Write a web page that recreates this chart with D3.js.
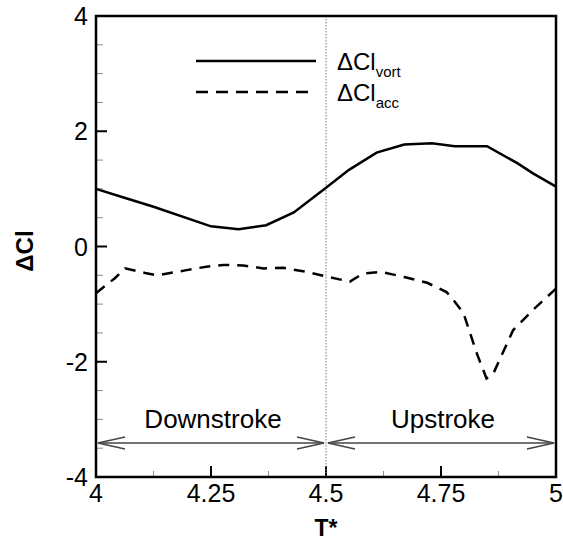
<!DOCTYPE html>
<html>
<head>
<meta charset="utf-8">
<script src="https://d3js.org/d3.v7.min.js"></script>
<style>
  body { margin: 0; background: #fff; }
  svg { font-family: Arial, "Liberation Sans", sans-serif; }
</style>
</head>
<body>
<svg width="563" height="549"></svg>
<script>
// time values (T*) and the two series
var vortT = [4.0, 4.06, 4.125, 4.25, 4.31, 4.37, 4.43, 4.5, 4.55, 4.61, 4.67, 4.73, 4.78, 4.85, 4.915, 4.95, 5.0];
var vortV = [1.0, 0.85, 0.69, 0.35, 0.30, 0.37, 0.59, 1.02, 1.33, 1.63, 1.77, 1.79, 1.74, 1.74, 1.45, 1.27, 1.04];

var accT = [4.0, 4.041, 4.063, 4.107, 4.132, 4.197, 4.24, 4.277, 4.32, 4.364, 4.407, 4.458, 4.5, 4.552, 4.58, 4.62, 4.67, 4.72, 4.762, 4.777, 4.799, 4.828, 4.849, 4.864, 4.907, 4.95, 5.0];
var accV = [-0.81, -0.55, -0.38, -0.46, -0.50, -0.41, -0.35, -0.32, -0.33, -0.38, -0.37, -0.44, -0.52, -0.61, -0.47, -0.44, -0.53, -0.63, -0.79, -0.93, -1.16, -1.86, -2.29, -2.2, -1.45, -1.10, -0.73];

var xTicks = [4, 4.25, 4.5, 4.75, 5];
var xTickLabels = ["4", "4.25", "4.5", "4.75", "5"];
var yTicks = [-4, -2, 0, 2, 4];
var strokes = [{name: "Downstroke", from: 4, to: 4.5}, {name: "Upstroke", from: 4.5, to: 5}];
var arrowLevel = -3.41;

var svg = d3.select("svg");
var x = d3.scaleLinear().domain([4, 5]).range([96, 556]);
var y = d3.scaleLinear().domain([-4, 4]).range([477, 16]);

// minor ticks
var xMinor = d3.range(4, 5.0001, 0.125).filter(d => xTicks.indexOf(d) < 0);
var yMinor = d3.range(-4, 4.0001, 0.5).filter(d => yTicks.indexOf(d) < 0);

svg.append("g").selectAll("line").data(xMinor).join("line")
  .attr("x1", d => x(d)).attr("x2", d => x(d))
  .attr("y1", y(-4)).attr("y2", y(-4) - 6)
  .attr("stroke", "#888").attr("stroke-width", 1);
svg.append("g").selectAll("line").data(yMinor).join("line")
  .attr("x1", x(4)).attr("x2", x(4) + 7)
  .attr("y1", d => y(d)).attr("y2", d => y(d))
  .attr("stroke", "#888").attr("stroke-width", 1);

// major ticks
svg.append("g").selectAll("line").data(xTicks).join("line")
  .attr("x1", d => x(d)).attr("x2", d => x(d))
  .attr("y1", y(-4)).attr("y2", y(-4) - 11)
  .attr("stroke", "#000").attr("stroke-width", 2);
svg.append("g").selectAll("line").data(yTicks).join("line")
  .attr("x1", x(4)).attr("x2", x(4) + 11)
  .attr("y1", d => y(d)).attr("y2", d => y(d))
  .attr("stroke", "#000").attr("stroke-width", 2);

// tick labels
svg.append("g").selectAll("text").data(xTicks).join("text")
  .attr("x", d => x(d)).attr("y", 502)
  .attr("text-anchor", "middle").attr("font-size", "25px")
  .text((d, i) => xTickLabels[i]);
svg.append("g").selectAll("text").data(yTicks).join("text")
  .attr("x", 88).attr("y", d => y(d) + 9)
  .attr("text-anchor", "end").attr("font-size", "25px")
  .text(d => d);

// dotted divider at 4.5
svg.append("line")
  .attr("x1", x(4.5)).attr("x2", x(4.5))
  .attr("y1", y(4)).attr("y2", y(-4))
  .attr("stroke", "#777").attr("stroke-width", 1)
  .attr("stroke-dasharray", "1.5,1.5");

var line = d3.line().x(d => x(d[0])).y(d => y(d[1]));

svg.append("path")
  .datum(vortT.map((t, i) => [t, vortV[i]]))
  .attr("d", line).attr("fill", "none")
  .attr("stroke", "#000").attr("stroke-width", 2.5);

svg.append("path")
  .datum(accT.map((t, i) => [t, accV[i]]))
  .attr("d", line).attr("fill", "none")
  .attr("stroke", "#000").attr("stroke-width", 2.5)
  .attr("stroke-dasharray", "11,8");

// stroke arrows
strokes.forEach(function(s) {
  var g = svg.append("g").attr("stroke", "#444").attr("stroke-width", 1.3).attr("fill", "none");
  var x0 = x(s.from) + 2, x1 = x(s.to) - 2, yy = y(arrowLevel);
  g.append("line").attr("x1", x0).attr("x2", x1).attr("y1", yy).attr("y2", yy);
  g.append("path").attr("d", "M" + (x0 + 27) + "," + (yy - 6) + "L" + x0 + "," + yy + "L" + (x0 + 27) + "," + (yy + 6));
  g.append("path").attr("d", "M" + (x1 - 27) + "," + (yy - 6) + "L" + x1 + "," + yy + "L" + (x1 - 27) + "," + (yy + 6));
  svg.append("text")
    .attr("x", (x(s.from) + x(s.to)) / 2 + 2).attr("y", 428)
    .attr("text-anchor", "middle").attr("font-size", "26px")
    .text(s.name);
});

// frame
svg.append("rect")
  .attr("x", x(4)).attr("y", y(4))
  .attr("width", x(5) - x(4)).attr("height", y(-4) - y(4))
  .attr("fill", "none").attr("stroke", "#000").attr("stroke-width", 2.5);

// axis titles
svg.append("text")
  .attr("x", x(4.5)).attr("y", 536)
  .attr("text-anchor", "middle").attr("font-size", "23px").attr("font-weight", "bold")
  .text("T*");
svg.append("text")
  .attr("transform", "translate(33,251) rotate(-90)")
  .attr("text-anchor", "middle").attr("font-size", "24px").attr("font-weight", "bold")
  .text("\u0394Cl");

// legend
var legend = [{label: "vort", dash: null, yy: 61}, {label: "acc", dash: "12,8", yy: 92}];
legend.forEach(function(l) {
  svg.append("line")
    .attr("x1", 196).attr("x2", 316).attr("y1", l.yy).attr("y2", l.yy)
    .attr("stroke", "#000").attr("stroke-width", 2.5)
    .attr("stroke-dasharray", l.dash);
  var t = svg.append("text").attr("x", 337).attr("y", l.yy + 9).attr("font-size", "24px");
  t.append("tspan").text("\u0394Cl");
  t.append("tspan").attr("font-size", "15px").attr("dy", 7).text(l.label);
});
</script>
</body>
</html>
